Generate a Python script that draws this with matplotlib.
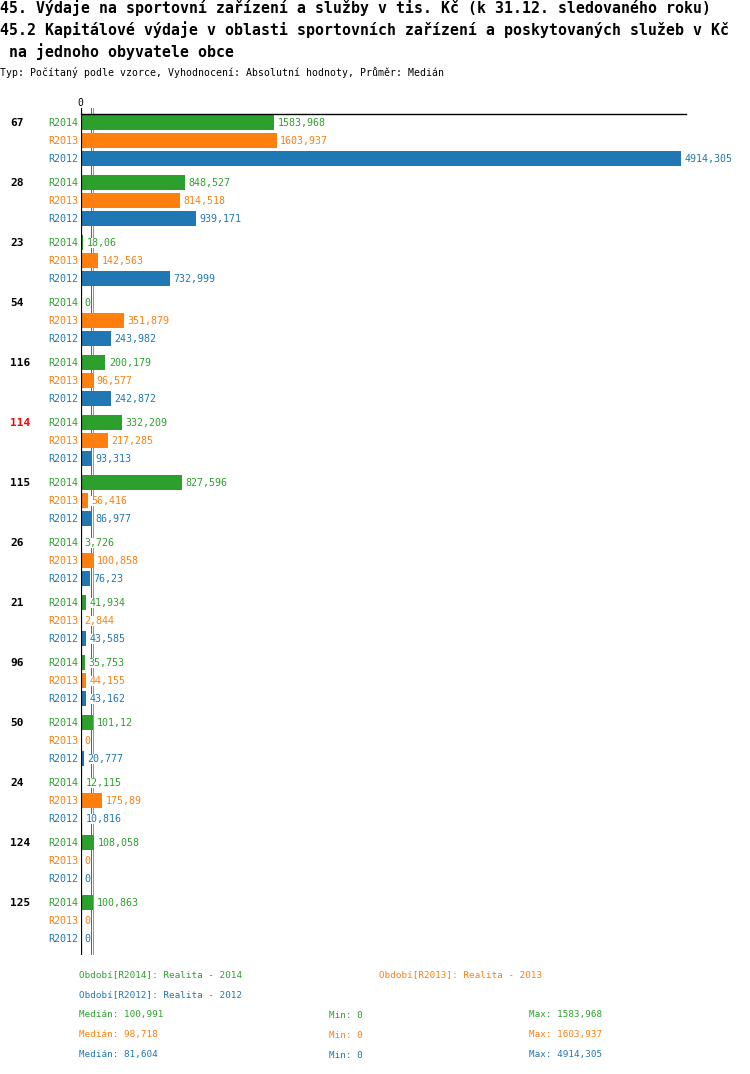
import matplotlib
matplotlib.use('Agg')
import matplotlib.pyplot as plt
import matplotlib.transforms as mtransforms

plt.rcParams['font.family'] = ['DejaVu Sans Mono', 'DejaVu Sans']

# Data
groups = ['67', '28', '23', '54', '116', '114', '115', '26', '21', '96', '50', '24', '124', '125']
highlight = '114'
periods = ['R2014', 'R2013', 'R2012']
r2014 = [1583.968, 848.527, 18.06, 0, 200.179, 332.209, 827.596, 3.726, 41.934, 35.753, 101.12, 12.115, 108.058, 100.863]
r2013 = [1603.937, 814.518, 142.563, 351.879, 96.577, 217.285, 56.416, 100.858, 2.844, 44.155, 0, 175.89, 0, 0]
r2012 = [4914.305, 939.171, 732.999, 243.982, 242.872, 93.313, 86.977, 76.23, 43.585, 43.162, 20.777, 10.816, 0, 0]
medians = [100.991, 98.718, 81.604]
mins = [0, 0, 0]
maxs = [1583.968, 1603.937, 4914.305]
legend_names = ['Období[R2014]: Realita - 2014', 'Období[R2013]: Realita - 2013', 'Období[R2012]: Realita - 2012']

colors = ['#2ca02c', '#ff7f0e', '#1f77b4']
series = [r2014, r2013, r2012]

W, H = 750, 1074


def fmt(v):
    s = ('%.3f' % v).rstrip('0').rstrip('.')
    return s.replace('.', ',')


def fx(px):
    return px / W


def fy(py):
    return 1 - py / H


fig = plt.figure(figsize=(W / 100, H / 100), dpi=100)
fig.patch.set_facecolor('white')

# axes: x=0 at px 81, right edge px 686 ; top px 108, bottom px 955
scale = (681 - 81) / 4914.305
xmax = (686 - 81) / scale
ax = fig.add_axes([fx(81), fy(955), fx(686 - 81), (955 - 108) / H])
ax.set_xlim(0, xmax)
ax.set_ylim(13.875, -0.2417)
ax.axis('off')

pitch = 0.3
bar_h = 0.26

for k, vals in enumerate(series):
    ys = [g + k * pitch for g in range(len(groups))]
    ax.barh(ys, vals, height=bar_h, color=colors[k], zorder=6, linewidth=0)
    for y, v in zip(ys, vals):
        ax.annotate(fmt(v), (v, y), xytext=(2.4, 0), textcoords='offset points',
                    va='center', ha='left', fontsize=7.2, color=colors[k], zorder=4,
                    bbox=dict(facecolor='white', edgecolor='none', pad=0))

# median lines, under labels and bars
ax.axvline(medians[2], color=colors[2], lw=0.72, zorder=2, antialiased=False)
ax.axvline(medians[0], color=colors[0], lw=0.72, zorder=2.1, antialiased=False)
ax.axvline(medians[1], color=colors[1], lw=0.72, zorder=2.2, antialiased=False)

# zero axis and top line
ax.axvline(0, color='black', lw=1.6, zorder=7)
ax.plot([0, xmax], [-0.1417, -0.1417], color='black', lw=1.0, zorder=7, clip_on=False)

# left labels
tr = mtransforms.blended_transform_factory(fig.transFigure, ax.transData)
for g, name in enumerate(groups):
    ax.text(fx(10), g, name, transform=tr, ha='left', va='center', fontsize=8,
            fontweight='bold', color='red' if name == highlight else 'black')
    for k, p in enumerate(periods):
        ax.text(fx(78), g + k * pitch, p, transform=tr, ha='right', va='center',
                fontsize=7.2, color=colors[k])

fig.text(fx(80), fy(103), '0', ha='center', va='center', fontsize=7, color='black')

# titles
fig.text(0, fy(8), '45. Výdaje na sportovní zařízení a služby v tis. Kč (k 31.12. sledovaného roku)',
         ha='left', va='center', fontsize=10.7, fontweight='bold')
fig.text(0, fy(30), '45.2 Kapitálové výdaje v oblasti sportovních zařízení a poskytovaných služeb v Kč',
         ha='left', va='center', fontsize=10.7, fontweight='bold')
fig.text(0, fy(52), ' na jednoho obyvatele obce', ha='left', va='center', fontsize=10.7, fontweight='bold')
fig.text(0, fy(73), 'Typ: Počítaný podle vzorce, Vyhodnocení: Absolutní hodnoty, Průměr: Medián',
         ha='left', va='center', fontsize=7.15)

# legend
lfs = 6.65
fig.text(fx(79), fy(975), legend_names[0], ha='left', va='center', fontsize=lfs, color=colors[0])
fig.text(fx(379), fy(975), legend_names[1], ha='left', va='center', fontsize=lfs, color=colors[1])
fig.text(fx(79), fy(995), legend_names[2], ha='left', va='center', fontsize=lfs, color=colors[2])
for k in range(3):
    yy = fy(1015 + 20 * k)
    fig.text(fx(79), yy, 'Medián: ' + fmt(medians[k]), ha='left', va='center', fontsize=lfs, color=colors[k])
    fig.text(fx(329), yy, 'Min: ' + fmt(mins[k]), ha='left', va='center', fontsize=lfs, color=colors[k])
    fig.text(fx(529), yy, 'Max: ' + fmt(maxs[k]), ha='left', va='center', fontsize=lfs, color=colors[k])

fig.savefig('out.png', dpi=100, facecolor='white')
